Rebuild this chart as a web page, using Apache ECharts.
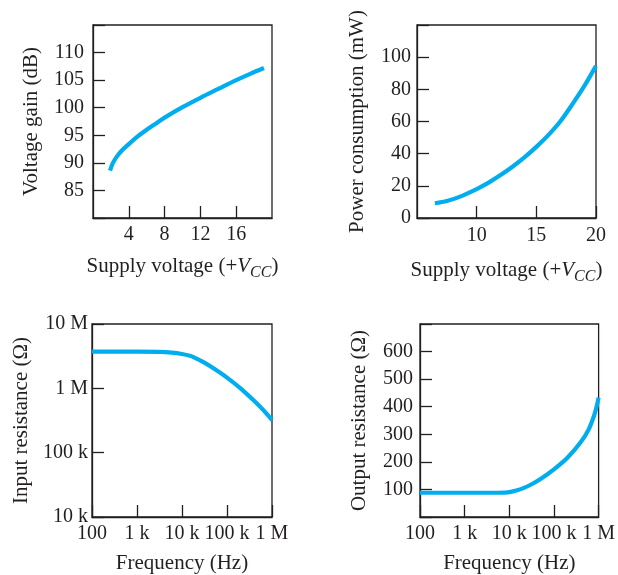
<!DOCTYPE html>
<html>
<head>
<meta charset="utf-8">
<script src="https://cdn.jsdelivr.net/npm/echarts@6/dist/echarts.min.js"></script>
<style>
  html, body { margin: 0; padding: 0; background: #fff; }
  #chart { width: 618px; height: 575px; }
</style>
</head>
<body>
<div id="chart"></div>
<script>
// ---- Data ----
// (a) Voltage gain vs supply voltage
const gainVcc   = [1.9, 2.2, 2.6, 3.2, 4.0, 5.0, 6.0, 7.0, 8.0, 10.0, 12.0, 14.0, 16.0, 17.5, 19.1];
const gainDb    = [88.6, 89.9, 91.0, 92.2, 93.4, 94.8, 96.0, 97.1, 98.2, 100.1, 101.8, 103.4, 105.0, 106.1, 107.2];
const gainYTicks = [85, 90, 95, 100, 105, 110];
const gainXTicks = [4, 8, 12, 16];

// (b) Power consumption vs supply voltage
const powerVcc  = [6.5, 7.5, 8.5, 10, 11, 12, 13, 14, 15, 16, 17, 18, 19, 20];
const powerMw   = [9.2, 10.6, 13.0, 18.0, 22.0, 26.7, 31.9, 37.7, 44.2, 51.5, 60.0, 70.5, 81.8, 94.6];
const powerYTicks = [0, 20, 40, 60, 80, 100];
const powerXTicks = [10, 15, 20];

// (c) Input resistance vs frequency
const rinFreq   = [100, 1000, 3000, 6000, 10000, 15000, 20000, 30000, 50000, 100000, 200000, 400000, 700000, 1000000];
const rinOhm    = [3.72e6, 3.72e6, 3.70e6, 3.60e6, 3.42e6, 3.20e6, 2.95e6, 2.55e6, 2.05e6, 1.47e6, 1.0e6, 0.64e6, 0.43e6, 0.32e6];

// (d) Output resistance vs frequency
const routFreq  = [100, 1000, 5000, 8000, 10000, 15000, 20000, 30000, 50000, 100000, 200000, 400000, 600000, 800000, 900000, 1000000];
const routOhm   = [88, 88, 88, 88.5, 90, 97, 104, 117, 138, 173, 215, 272, 318, 370, 400, 433];
const routYTicks = [100, 200, 300, 400, 500, 600];

// Log tick labels
const freqTickLabels = { 100: '100', 1000: '1 k', 10000: '10 k', 100000: '100 k', 1000000: '1 M' };
const resTickLabels  = { 10000: '10 k', 100000: '100 k', 1000000: '1 M', 10000000: '10 M' };

// ---- Styles ----
const INK = '#231f20';
const FONT = '"Liberation Serif", "Times New Roman", serif';
const LINE = '#00aeef';

function pairs(xs, ys) { return xs.map((x, i) => [x, ys[i]]); }

function baseAxis(extra) {
  return Object.assign({
    axisLine: { show: true, onZero: false, lineStyle: { color: INK, width: 1.3 } },
    axisTick: { show: true, inside: true, length: 12, lineStyle: { color: INK, width: 1.3 } },
    splitLine: { show: false },
    nameLocation: 'middle',
    nameTextStyle: { color: INK, fontFamily: FONT, fontSize: 21 }
  }, extra);
}
function labelStyle(margin, extra) {
  return Object.assign({ color: INK, fontFamily: FONT, fontSize: 20, margin: margin }, extra);
}
const vccName = '{n|Supply voltage (+}{i|V}{s|CC}{n|)}';
const vccRich = {
  n: { fontFamily: FONT, fontSize: 21, color: INK },
  i: { fontFamily: FONT, fontSize: 21, color: INK, fontStyle: 'italic' },
  s: { fontFamily: FONT, fontSize: 16, color: INK, fontStyle: 'italic', padding: [13, 0, 0, 0] }
};

const chart = echarts.init(document.getElementById('chart'), null, { renderer: 'canvas' });

const option = {
  backgroundColor: '#fff',
  animation: false,
  grid: [
    { left: 93,  top: 25,  width: 179, height: 193, show: true, borderColor: INK, borderWidth: 1.3 },
    { left: 417, top: 25,  width: 179, height: 193, show: true, borderColor: INK, borderWidth: 1.3 },
    { left: 92,  top: 324, width: 180, height: 193, show: true, borderColor: INK, borderWidth: 1.3 },
    { left: 420, top: 324, width: 179, height: 193, show: true, borderColor: INK, borderWidth: 1.3 }
  ],
  xAxis: [
    baseAxis({
      gridIndex: 0, type: 'value', min: 0, max: 20, interval: 4,
      axisLabel: labelStyle(7, { showMinLabel: false, showMaxLabel: false,
        formatter: v => gainXTicks.includes(v) ? String(v) : '' }),
      name: vccName, nameGap: 34,
      nameTextStyle: { color: INK, fontFamily: FONT, fontSize: 21, rich: vccRich }
    }),
    baseAxis({
      gridIndex: 1, type: 'value', min: 5, max: 20, interval: 5,
      axisLabel: labelStyle(8, { showMinLabel: false,
        formatter: v => powerXTicks.includes(v) ? String(v) : '' }),
      name: vccName, nameGap: 38,
      nameTextStyle: { color: INK, fontFamily: FONT, fontSize: 21, rich: vccRich }
    }),
    baseAxis({
      gridIndex: 2, type: 'log', logBase: 10, min: 100, max: 1000000,
      axisLabel: labelStyle(7, { formatter: v => freqTickLabels[Math.round(v)] || '' }),
      name: 'Frequency (Hz)', nameGap: 36
    }),
    baseAxis({
      gridIndex: 3, type: 'log', logBase: 10, min: 100, max: 1000000,
      axisLabel: labelStyle(7, { formatter: v => freqTickLabels[Math.round(v)] || '' }),
      name: 'Frequency (Hz)', nameGap: 36
    })
  ],
  yAxis: [
    baseAxis({
      gridIndex: 0, type: 'value', min: 80, max: 115, interval: 5,
      axisLabel: labelStyle(9, { formatter: v => gainYTicks.includes(v) ? String(v) : '' }),
      name: 'Voltage gain (dB)', nameGap: 51
    }),
    baseAxis({
      gridIndex: 1, type: 'value', min: 0, max: 120, interval: 20,
      axisLabel: labelStyle(6, { formatter: v => powerYTicks.includes(v) ? String(v) : '' }),
      name: 'Power consumption (mW)', nameGap: 49
    }),
    baseAxis({
      gridIndex: 2, type: 'log', logBase: 10, min: 10000, max: 10000000,
      axisLabel: labelStyle(4, { formatter: v => resTickLabels[Math.round(v)] || '' }),
      name: 'Input resistance (Ω)', nameGap: 60
    }),
    baseAxis({
      gridIndex: 3, type: 'value', min: 0, max: 700, interval: 100,
      axisLabel: labelStyle(7, { formatter: v => routYTicks.includes(v) ? String(v) : '' }),
      name: 'Output resistance (Ω)', nameGap: 50
    })
  ],
  series: [
    { type: 'line', xAxisIndex: 0, yAxisIndex: 0, data: pairs(gainVcc, gainDb) },
    { type: 'line', xAxisIndex: 1, yAxisIndex: 1, data: pairs(powerVcc, powerMw) },
    { type: 'line', xAxisIndex: 2, yAxisIndex: 2, data: pairs(rinFreq, rinOhm) },
    { type: 'line', xAxisIndex: 3, yAxisIndex: 3, data: pairs(routFreq, routOhm) }
  ].map(s => Object.assign(s, {
    smooth: 0.3, showSymbol: false, symbol: 'none', clip: false,
    lineStyle: { color: LINE, width: 4.2, cap: 'butt' }
  }))
};
chart.setOption(option);
</script>
</body>
</html>
